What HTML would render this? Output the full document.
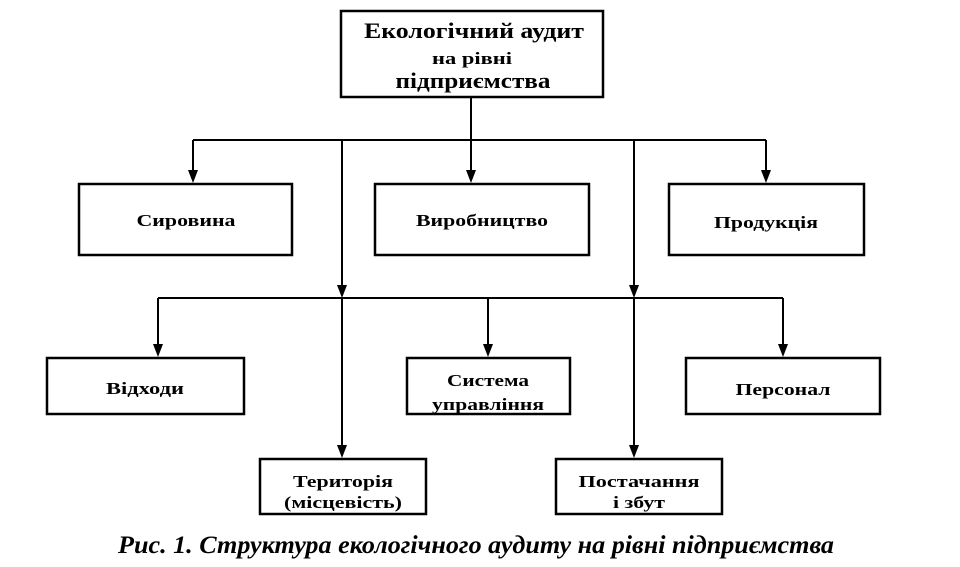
<!DOCTYPE html>
<html><head><meta charset="utf-8"><style>
body{margin:0;background:#fff;}
svg text{font-family:"Liberation Serif",serif;font-weight:bold;fill:#000;}
</style></head><body>
<svg width="960" height="562" viewBox="0 0 960 562" xmlns="http://www.w3.org/2000/svg">
<g stroke="#000" stroke-width="2.5" fill="none">
<rect x="341" y="11" width="262" height="86"/>
<rect x="79" y="184" width="213" height="71"/>
<rect x="375" y="184" width="214" height="71"/>
<rect x="669" y="184" width="195" height="71"/>
<rect x="47" y="358" width="197" height="56"/>
<rect x="407" y="358" width="163" height="56"/>
<rect x="686" y="358" width="194" height="56"/>
<rect x="260" y="459" width="166" height="55"/>
<rect x="556" y="459" width="166" height="55"/>
</g>
<g stroke="#000" stroke-width="2" fill="none">
<line x1="471" y1="97" x2="471" y2="140"/>
<line x1="193" y1="140" x2="766" y2="140"/>
<line x1="158" y1="298" x2="783" y2="298"/>
</g>
<g fill="#000">
<rect x="192" y="140" width="2" height="32"/><path d="M188,170 L198,170 L193,183Z"/>
<rect x="470" y="140" width="2" height="32"/><path d="M466,170 L476,170 L471,183Z"/>
<rect x="765" y="140" width="2" height="32"/><path d="M761,170 L771,170 L766,183Z"/>
<rect x="341" y="140" width="2" height="148"/><path d="M337,285 L347,285 L342,298Z"/>
<rect x="633" y="140" width="2" height="148"/><path d="M629,285 L639,285 L634,298Z"/>
<rect x="157" y="298" width="2" height="48"/><path d="M153,344 L163,344 L158,357Z"/>
<rect x="487" y="298" width="2" height="48"/><path d="M483,344 L493,344 L488,357Z"/>
<rect x="782" y="298" width="2" height="48"/><path d="M778,344 L788,344 L783,357Z"/>
<rect x="341" y="298" width="2" height="148"/><path d="M337,445 L347,445 L342,458Z"/>
<rect x="633" y="298" width="2" height="148"/><path d="M629,445 L639,445 L634,458Z"/>
</g>
<g text-anchor="middle" lengthAdjust="spacingAndGlyphs">
<text x="474" y="38" font-size="22" textLength="220" lengthAdjust="spacingAndGlyphs">Екологічний аудит</text>
<text x="472" y="64" font-size="17" textLength="80" lengthAdjust="spacingAndGlyphs">на рівні</text>
<text x="473" y="88" font-size="22" textLength="155" lengthAdjust="spacingAndGlyphs">підприємства</text>
<text x="186" y="226" font-size="17" textLength="99" lengthAdjust="spacingAndGlyphs">Сировина</text>
<text x="482" y="226" font-size="17" textLength="132" lengthAdjust="spacingAndGlyphs">Виробництво</text>
<text x="766" y="228" font-size="17" textLength="104" lengthAdjust="spacingAndGlyphs">Продукція</text>
<text x="145" y="394" font-size="17" textLength="78" lengthAdjust="spacingAndGlyphs">Відходи</text>
<text x="488" y="386" font-size="17" textLength="82" lengthAdjust="spacingAndGlyphs">Система</text>
<text x="488" y="410" font-size="17" textLength="112" lengthAdjust="spacingAndGlyphs">управління</text>
<text x="783" y="395" font-size="17" textLength="95" lengthAdjust="spacingAndGlyphs">Персонал</text>
<text x="343" y="487" font-size="17" textLength="100" lengthAdjust="spacingAndGlyphs">Територія</text>
<text x="343" y="508" font-size="17" textLength="118" lengthAdjust="spacingAndGlyphs">(місцевість)</text>
<text x="639" y="487" font-size="17" textLength="121" lengthAdjust="spacingAndGlyphs">Постачання</text>
<text x="639" y="508" font-size="17" textLength="52" lengthAdjust="spacingAndGlyphs">і збут</text>
<text x="476" y="553" font-size="25" font-style="italic" textLength="716" lengthAdjust="spacingAndGlyphs">Рис. 1. Структура екологічного аудиту на рівні підприємства</text>
</g>
</svg>
</body></html>
